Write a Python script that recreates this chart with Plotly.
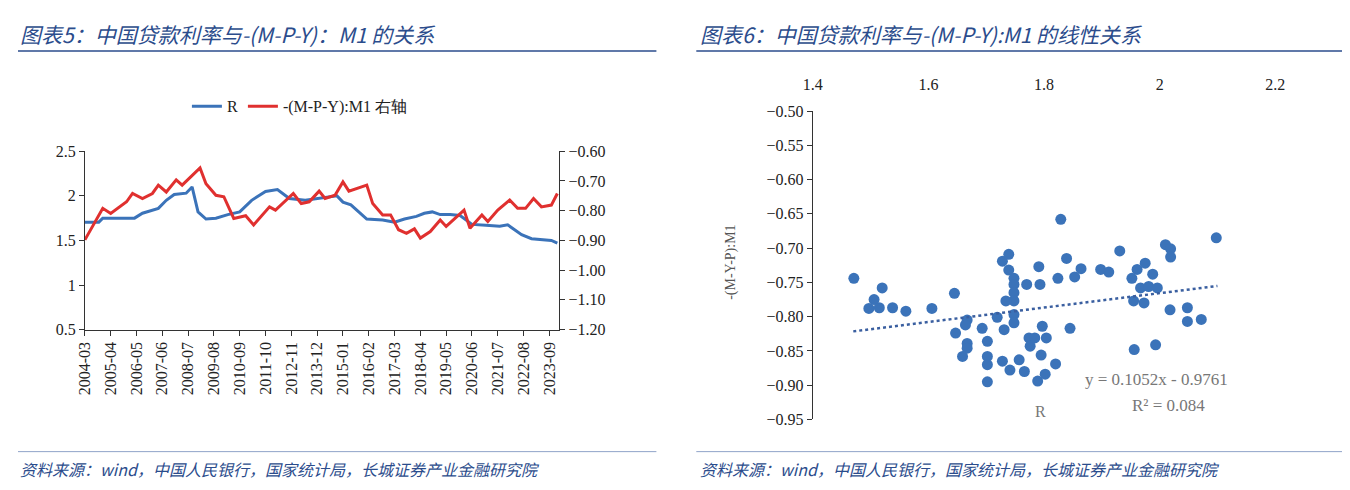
import plotly.graph_objects as go

# ---- 左图：月份序号（自 2004-03 起）与数值 ----
tick_labels = ["2004-03", "2005-04", "2006-05", "2007-06", "2008-07", "2009-08", "2010-09",
               "2011-10", "2012-11", "2013-12", "2015-01", "2016-02", "2017-03", "2018-04",
               "2019-05", "2020-06", "2021-07", "2022-08", "2023-09"]

r_month = [0, 7, 9, 25, 29, 34, 37, 41, 45, 51, 54, 57, 61, 66, 72, 78, 84, 91, 97, 103, 111,
           127, 130, 134, 142, 150, 156, 161, 167, 171, 175, 179, 184, 189, 195, 202, 209, 213,
           220, 225, 231, 235, 238]
r_value = [1.705, 1.705, 1.75, 1.75, 1.805, 1.84, 1.86, 1.95, 2.015, 2.03, 2.10, 1.82, 1.74,
           1.75, 1.79, 1.82, 1.95, 2.05, 2.07, 1.97, 1.95, 2.0, 1.93, 1.90, 1.74, 1.73, 1.705,
           1.74, 1.77, 1.805, 1.82, 1.79, 1.79, 1.78, 1.68, 1.67, 1.66, 1.675, 1.565, 1.52,
           1.51, 1.50, 1.47]

m_month = [0, 9, 13, 21, 24, 29, 34, 37, 41, 46, 49, 53, 58, 61, 66, 70, 75, 81, 85, 93, 96,
           105, 109, 113, 118, 121, 126, 130, 133, 142, 145, 150, 154, 158, 162, 166, 169, 174,
           179, 182, 191, 194, 200, 203, 208, 214, 218, 222, 226, 230, 235, 238]
m_value = [-0.898, -0.792, -0.809, -0.770, -0.742, -0.759, -0.742, -0.714, -0.737, -0.696,
           -0.714, -0.687, -0.656, -0.709, -0.748, -0.753, -0.826, -0.817, -0.848, -0.787,
           -0.798, -0.742, -0.776, -0.770, -0.734, -0.759, -0.748, -0.703, -0.734, -0.714,
           -0.776, -0.814, -0.814, -0.864, -0.876, -0.861, -0.892, -0.870, -0.831, -0.853,
           -0.798, -0.859, -0.814, -0.836, -0.798, -0.764, -0.792, -0.792, -0.759, -0.787,
           -0.781, -0.742]

# ---- 右图：散点 ----
sc_r = [1.471, 1.520, 1.506, 1.497, 1.515, 1.538, 1.561, 1.606, 1.645, 1.647, 1.667, 1.664,
        1.667, 1.667, 1.659, 1.693, 1.702, 1.702, 1.702, 1.702, 1.719, 1.728, 1.731, 1.728,
        1.739, 1.739, 1.748, 1.748, 1.748, 1.748, 1.734, 1.748, 1.748, 1.741, 1.757, 1.766,
        1.770, 1.774, 1.776, 1.791, 1.793, 1.797, 1.804, 1.795, 1.789, 1.802, 1.820, 1.784,
        1.824, 1.829, 1.839, 1.845, 1.853, 1.864, 1.898, 1.912, 1.931, 1.952, 1.961, 1.975,
        1.988, 1.967, 1.981, 1.996, 1.955, 1.973, 1.956, 1.993, 2.010, 2.019, 2.019, 2.018,
        2.048, 2.048, 2.072, 2.098]
sc_m = [-0.744, -0.758, -0.775, -0.788, -0.787, -0.787, -0.792, -0.788, -0.766, -0.824,
        -0.805, -0.812, -0.839, -0.846, -0.858, -0.817, -0.836, -0.858, -0.870, -0.895,
        -0.801, -0.865, -0.819, -0.719, -0.709, -0.732, -0.744, -0.753, -0.765, -0.777,
        -0.777, -0.797, -0.809, -0.878, -0.863, -0.880, -0.753, -0.831, -0.843, -0.727,
        -0.753, -0.814, -0.831, -0.856, -0.894, -0.884, -0.869, -0.831, -0.744, -0.658,
        -0.715, -0.817, -0.742, -0.730, -0.731, -0.735, -0.704, -0.744, -0.731, -0.722,
        -0.738, -0.758, -0.756, -0.758, -0.777, -0.780, -0.848, -0.841, -0.695, -0.701,
        -0.713, -0.790, -0.787, -0.807, -0.804, -0.685]

trend_x = [1.47, 2.10]
slope, intercept = 0.1052, -0.9761

BLUE = "#3b73b9"
RED = "#e0302f"
TITLE = "#2b4c8c"
serif = "Liberation Serif"

fig = go.Figure()

fig.add_trace(go.Scatter(x=r_month, y=r_value, name="R", mode="lines",
                         line=dict(color=BLUE, width=3), xaxis="x", yaxis="y"))
fig.add_trace(go.Scatter(x=m_month, y=m_value, name="-(M-P-Y):M1 右轴", mode="lines",
                         line=dict(color=RED, width=3), xaxis="x", yaxis="y2"))

fig.add_trace(go.Scatter(x=sc_r, y=sc_m, mode="markers", showlegend=False,
                         marker=dict(color=BLUE, size=11), xaxis="x3", yaxis="y3"))
fig.add_trace(go.Scatter(x=trend_x, y=[slope * v + intercept for v in trend_x], mode="lines",
                         showlegend=False, line=dict(color="#3a5fa0", width=2.5, dash="dot"),
                         xaxis="x3", yaxis="y3"))

axis_common = dict(showline=True, linecolor="#333", linewidth=1, ticks="outside",
                   ticklen=5, tickcolor="#333", showgrid=False, zeroline=False,
                   tickfont=dict(family=serif, size=16, color="#222"))

fig.update_layout(
    width=1350, height=490,
    margin=dict(l=0, r=0, t=0, b=0),
    paper_bgcolor="white", plot_bgcolor="white",
    font=dict(family="Noto Sans CJK SC"),
    legend=dict(orientation="h", x=0.127, y=0.809, xanchor="left", yanchor="middle",
                font=dict(family=serif, size=16, color="#222"), bgcolor="rgba(0,0,0,0)"),
    xaxis=dict(domain=[0.0503, 0.407], range=[0, 239], tickmode="array",
               tickvals=[13 * i for i in range(len(tick_labels))], ticktext=tick_labels,
               tickangle=-90, anchor="y", **axis_common),
    yaxis=dict(domain=[0.337, 0.714], range=[0.5, 2.5], dtick=0.5, anchor="x", **axis_common),
    yaxis2=dict(domain=[0.337, 0.714], range=[-1.2, -0.6], dtick=0.1, tickformat=".2f",
                overlaying="y", side="right", anchor="x", **axis_common),
    xaxis3=dict(domain=[0.5976, 0.9453], range=[1.4, 2.2], dtick=0.2, side="top",
                anchor="y3", **axis_common),
    yaxis3=dict(domain=[0.147, 0.799], range=[-0.95, -0.5], dtick=0.05, tickformat=".2f",
                anchor="x3", **axis_common),
)
# 顶部横轴：不画轴线，刻度标签上移
fig.update_layout(xaxis3=dict(showline=False, ticklen=14, tickcolor="rgba(0,0,0,0)"))

ann = [
    dict(x=0.0, y=0.962, text="<i>图表5：中国贷款利率与-(M-P-Y)：M1 的关系</i>",
         font=dict(size=21, color=TITLE)),
    dict(x=0.511, y=0.962, text="<i>图表6：中国贷款利率与-(M-P-Y):M1 的线性关系</i>",
         font=dict(size=21, color=TITLE)),
    dict(x=0.0, y=0.043, text="<i>资料来源：wind，中国人民银行，国家统计局，长城证券产业金融研究院</i>",
         font=dict(size=16, color=TITLE)),
    dict(x=0.511, y=0.043, text="<i>资料来源：wind，中国人民银行，国家统计局，长城证券产业金融研究院</i>",
         font=dict(size=16, color=TITLE)),
    dict(x=0.536, y=0.48, text="-(M-Y-P):M1", textangle=-90, xanchor="center",
         font=dict(family=serif, size=14, color="#555")),
    dict(x=0.769, y=0.164, text="R", xanchor="center",
         font=dict(family=serif, size=16, color="#777")),
    dict(x=0.801, y=0.231, text="y = 0.1052x - 0.9761",
         font=dict(family=serif, size=17, color="#777")),
    dict(x=0.836, y=0.177, text="R² = 0.084",
         font=dict(family=serif, size=17, color="#777")),
]
for a in ann:
    a.setdefault("xanchor", "left")
    fig.add_annotation(xref="paper", yref="paper", yanchor="middle", showarrow=False, **a)

for x0, x1 in [(0.0, 0.48), (0.51, 1.0)]:
    fig.add_shape(type="line", xref="paper", yref="paper", x0=x0, x1=x1, y0=0.926, y1=0.926,
                  line=dict(color=TITLE, width=1.5))
    fig.add_shape(type="line", xref="paper", yref="paper", x0=x0, x1=x1, y0=0.079, y1=0.079,
                  line=dict(color="#8fa3c8", width=1))

fig.write_html("out.html")
